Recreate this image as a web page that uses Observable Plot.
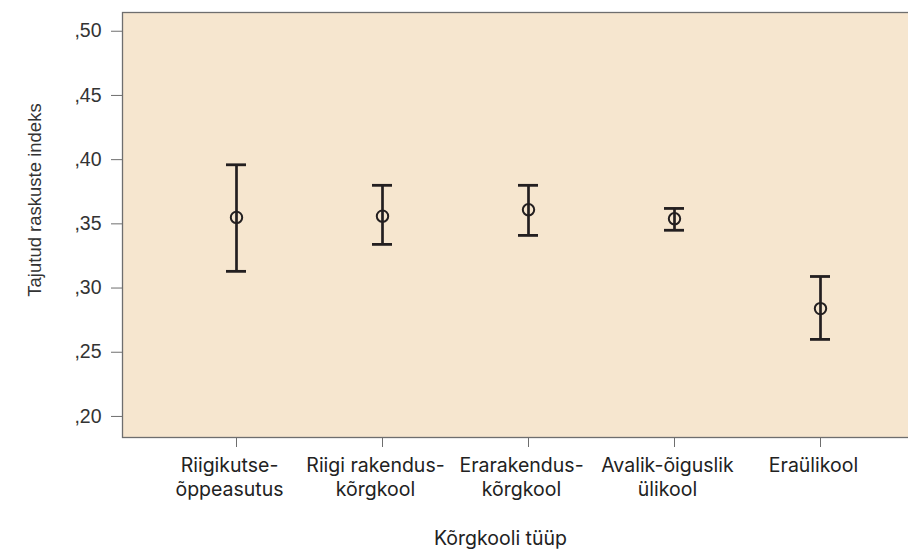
<!DOCTYPE html>
<html><head><meta charset="utf-8">
<script src="https://cdn.jsdelivr.net/npm/d3@7"></script>
<script src="https://cdn.jsdelivr.net/npm/@observablehq/plot@0.6"></script>
<style>body{margin:0;background:#fff;overflow:hidden}</style>
</head><body><div id="chart"></div>
<script>
const categories = ["Riigikutse-\nõppeasutus", "Riigi rakendus-\nkõrgkool", "Erarakendus-\nkõrgkool", "Avalik-õiguslik\nülikool", "Eraülikool"];
const means = [0.355, 0.356, 0.361, 0.354, 0.284];
const lower = [0.313, 0.334, 0.341, 0.345, 0.260];
const upper = [0.396, 0.380, 0.380, 0.362, 0.309];
const yTicks = [0.20, 0.25, 0.30, 0.35, 0.40, 0.45, 0.50];
const yLabel = "Tajutud raskuste indeks";
const xLabel = "Kõrgkooli tüüp";

const data = categories.map((c, i) => ({cat: c, mean: means[i], lo: lower[i], hi: upper[i]}));
const fmt = d => d3.format(".2f")(d).replace(/^0/, "").replace(".", ",");
const ink = "#231f20";
const bg = "#F6E6CF";
const axisGray = "#6e6e6e";

const chart = Plot.plot({
  width: 908, height: 549,
  marginLeft: 122, marginRight: 0, marginTop: 12, marginBottom: 112,
  style: {overflow: "hidden", background: "#fff"},
  x: {type: "point", domain: categories, range: [236, 820], padding: 0},
  y: {domain: [0.1836, 0.5146]},
  marks: [
    Plot.frame({fill: bg, stroke: axisGray, strokeWidth: 1.3, insetRight: -4}),
    Plot.axisY({ticks: yTicks, tickFormat: fmt, tickSize: 11, tickPadding: 10, stroke: axisGray, fill: "#333", fontSize: 19.5, fontFamily: "Liberation Sans", label: null}),
    Plot.axisX({tickSize: 10, tickFormat: () => "", stroke: axisGray, label: null}),
    Plot.axisX({tickSize: 0, tickPadding: 18, dx: -7, lineHeight: 1.2, fill: "#222", fontSize: 19.5, fontFamily: "Inter", label: null}),
    Plot.ruleX(data, {x: "cat", y1: "lo", y2: "hi", stroke: ink, strokeWidth: 2.7}),
    Plot.ruleY(data, {x1: "cat", x2: "cat", y: "lo", stroke: ink, strokeWidth: 2.8, insetLeft: -10, insetRight: -10}),
    Plot.ruleY(data, {x1: "cat", x2: "cat", y: "hi", stroke: ink, strokeWidth: 2.8, insetLeft: -10, insetRight: -10}),
    Plot.dot(data, {x: "cat", y: "mean", r: 5.7, stroke: ink, strokeWidth: 2, fill: "none"}),
    Plot.text([yLabel], {text: d => d, frameAnchor: "left", textAnchor: "middle", rotate: -90, dx: -87, dy: -25, fontSize: 18.5, fontFamily: "Liberation Sans", fill: "#333"}),
    Plot.text([xLabel], {text: d => d, frameAnchor: "bottom", dx: -15, dy: 107, fontSize: 19.5, fontFamily: "Inter", fill: "#222"})
  ]
});
document.getElementById("chart").appendChild(chart);
</script>
</body></html>
